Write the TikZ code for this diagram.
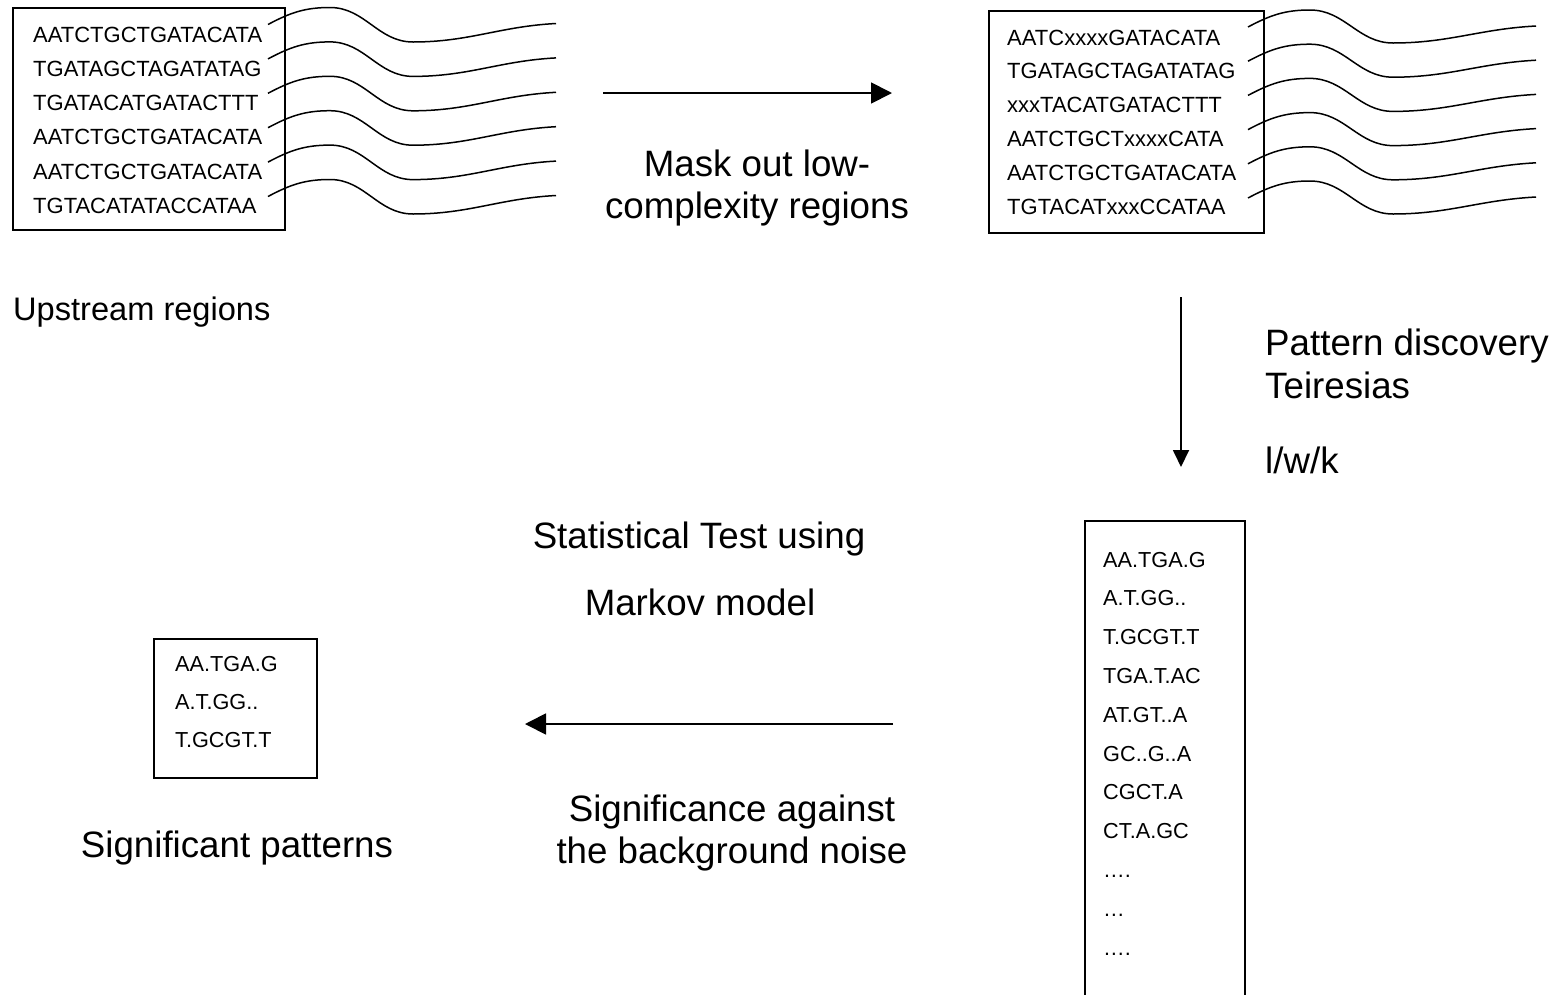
\documentclass[tikz,border=0pt]{standalone}
\usepackage{fontspec}
\setmainfont{Liberation Sans}
\usetikzlibrary{arrows.meta}
\tikzset{
  seq/.style={anchor=base west, inner sep=0pt, font=\fontsize{22}{26}\selectfont},
  pat/.style={anchor=base west, inner sep=0pt, font=\fontsize{21.7}{26}\selectfont},
  big/.style={anchor=base, inner sep=0pt, font=\fontsize{36.7}{42}\selectfont},
  bigw/.style={anchor=base west, inner sep=0pt, font=\fontsize{36.7}{42}\selectfont},
  mid/.style={anchor=base west, inner sep=0pt, font=\fontsize{32.6}{38}\selectfont},
  seqbox/.style={draw, line width=1.8pt, anchor=north west, inner sep=0pt},
  wave/.style={line width=1.5pt},
  arr/.style={line width=1.8pt, -{Triangle[length=21pt,width=21pt]}},
  arrs/.style={line width=1.8pt, -{Triangle[length=17pt,width=16pt]}},
}
\begin{document}
\begin{tikzpicture}[x=1pt,y=-1pt]
\useasboundingbox (0,0) rectangle (1564,994);
\clip (0,0) rectangle (1564,994);

% upstream regions box
\node[seqbox, minimum width=272pt, minimum height=222pt] (up) at (12,7) {};
\foreach \t [count=\i from 0] in {AATCTGCTGATACATA,TGATAGCTAGATATAG,TGATACATGATACTTT,AATCTGCTGATACATA,AATCTGCTGATACATA,TGTACATATACCATAA}{
  \node[seq] (u\i) at (33,42+34.3*\i) {\t};
  \draw[wave] (268,24.5+34.4*\i) to[out=28,in=180] (330,7.5+34.4*\i)
     to[out=0,in=180] (413,42+34.4*\i) to[out=0,in=183] (556,23.5+34.4*\i);
}
\node[mid] (uplab) at (13,320) {Upstream regions};

% masked box
\node[seqbox, minimum width=275pt, minimum height=222pt] (mk) at (988,10) {};
\foreach \t [count=\i from 0] in {AATCxxxxGATACATA,TGATAGCTAGATATAG,xxxTACATGATACTTT,AATCTGCTxxxxCATA,AATCTGCTGATACATA,TGTACATxxxCCATAA}{
  \node[seq] (m\i) at (1007,45+33.8*\i) {\t};
  \draw[wave] (1248,27+34.2*\i) to[out=28,in=180] (1310,10+34.2*\i)
     to[out=0,in=180] (1393,43+34.2*\i) to[out=0,in=183] (1536,26+34.2*\i);
}

% arrow 1
\coordinate (a1s) at (603,93);
\coordinate (a1e) at (892,93);
\draw[arr] (a1s) -- (a1e);
\node[big] (mask1) at (757,176) {Mask out low-};
\node[big] (mask2) at (757,218) {complexity regions};

% arrow 2
\coordinate (a2s) at (1181,297);
\coordinate (a2e) at (1181,467);
\draw[arrs] (a2s) -- (a2e);
\node[bigw] (pd1) at (1265,355) {Pattern discovery};
\node[bigw] (pd2) at (1265,398) {Teiresias};
\node[bigw] (pd3) at (1265,473) {l/w/k};

% patterns box
\node[seqbox, minimum width=160pt, minimum height=500pt] (pt) at (1084,520) {};
\foreach \t [count=\i from 0] in {AA.TGA.G,A.T.GG..,T.GCGT.T,TGA.T.AC,AT.GT..A,GC..G..A,CGCT.A,CT.A.GC,….,…,….}{
  \node[pat] (p\i) at (1103,567+38.8*\i) {\t};
}

% statistical test labels
\node[big] (st1) at (699,548) {Statistical Test using};
\node[big] (st2) at (700,615) {Markov model};

% arrow 3
\coordinate (a3s) at (893,724);
\coordinate (a3e) at (525,724);
\draw[arr] (a3s) -- (a3e);
\node[big] (sg1) at (732,821) {Significance against};
\node[big] (sg2) at (732,863) {the background noise};

% significant box
\node[seqbox, minimum width=163pt, minimum height=139pt] (sig) at (153,638) {};
\foreach \t [count=\i from 0] in {AA.TGA.G,A.T.GG..,T.GCGT.T}{
  \node[pat] (s\i) at (175,671+38*\i) {\t};
}
\node[big] (siglab) at (237,857) {Significant patterns};
\end{tikzpicture}
\end{document}
